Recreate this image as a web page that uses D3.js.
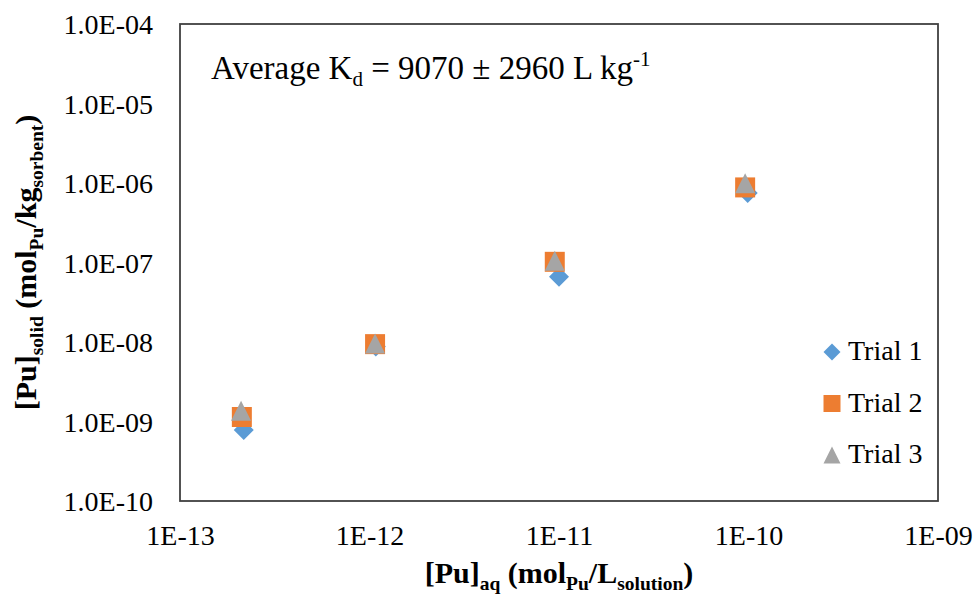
<!DOCTYPE html>
<html>
<head>
<meta charset="utf-8">
<script src="https://cdn.jsdelivr.net/npm/d3@7"></script>
<style>
  body { margin: 0; background: #fff; }
  svg, svg text { font-family: "Liberation Serif", Tinos, "Times New Roman", Times, "DejaVu Serif", serif; }
</style>
</head>
<body>
<div id="container"></div>
<script>
// values
let seriesNames = ["Trial 1", "Trial 2", "Trial 3"];
let seriesColors = ["#5B9BD5", "#ED7D31", "#A5A5A5"];
let seriesShapes = ["diamond", "square", "triangle"];

let trial1X = [2.17e-13, 1.08e-12, 1.0e-11, 9.9e-11];
let trial1Y = [7.8e-10, 8.8e-9, 6.6e-8, 7.5e-7];
let trial2X = [2.12e-13, 1.07e-12, 9.5e-12, 9.6e-11];
let trial2Y = [1.14e-9, 9.4e-9, 1.02e-7, 8.8e-7];
let trial3X = [2.1e-13, 1.07e-12, 9.5e-12, 9.6e-11];
let trial3Y = [1.37e-9, 9.6e-9, 1.05e-7, 9.9e-7];

let xTicks = [1e-13, 1e-12, 1e-11, 1e-10, 1e-9];
let xTickLabels = ["1E-13", "1E-12", "1E-11", "1E-10", "1E-09"];
let yTicks = [1e-10, 1e-9, 1e-8, 1e-7, 1e-6, 1e-5, 1e-4];
let yTickLabels = ["1.0E-10", "1.0E-09", "1.0E-08", "1.0E-07", "1.0E-06", "1.0E-05", "1.0E-04"];

let width = 976, height = 596;
let plot = { left: 180, right: 938, top: 24, bottom: 501 };
let serif = "'Liberation Serif', Tinos, 'Times New Roman', Times, 'DejaVu Serif', serif";

let svg = d3.select("#container").append("svg")
  .attr("width", width)
  .attr("height", height)
  .attr("font-family", serif);

let x = d3.scaleLog().domain([1e-13, 1e-9]).range([plot.left, plot.right]);
let y = d3.scaleLog().domain([1e-10, 1e-4]).range([plot.bottom, plot.top]);

// marker shapes, s = full size
let markerPath = (shape, s) => {
  let h = s / 2;
  if (shape == "diamond") return `M0,${-h}L${h},0L0,${h}L${-h},0Z`;
  if (shape == "square") return `M${-h},${-h}H${h}V${h}H${-h}Z`;
  return `M0,${-h}L${h},${h}L${-h},${h}Z`;
};

// plot border
svg.append("rect")
  .attr("x", plot.left)
  .attr("y", plot.top)
  .attr("width", plot.right - plot.left)
  .attr("height", plot.bottom - plot.top)
  .attr("fill", "none")
  .attr("stroke", "#404040")
  .attr("stroke-width", 1.8);

// axes (labels only, no tick marks)
let xAxis = d3.axisBottom(x).tickValues(xTicks).tickSize(0).tickPadding(0)
  .tickFormat((d, i) => xTickLabels[i]);
let gx = svg.append("g").attr("transform", `translate(0,${plot.bottom})`).call(xAxis)
  .attr("font-family", serif);
gx.select(".domain").remove();
gx.selectAll("text")
  .attr("y", 44).attr("dy", 0)
  .attr("font-size", 28).attr("fill", "#000");

let yAxis = d3.axisLeft(y).tickValues(yTicks).tickSize(0).tickPadding(0)
  .tickFormat((d, i) => yTickLabels[i]);
let gy = svg.append("g").attr("transform", `translate(${plot.left},0)`).call(yAxis)
  .attr("font-family", serif);
gy.select(".domain").remove();
gy.selectAll("text")
  .attr("x", -27).attr("dy", "0.34em")
  .attr("font-size", 28).attr("fill", "#000");

// points
let allX = [trial1X, trial2X, trial3X];
let allY = [trial1Y, trial2Y, trial3Y];
seriesNames.forEach((name, k) => {
  let pts = allX[k].map((v, i) => [v, allY[k][i]]);
  svg.append("g").selectAll("path")
    .data(pts)
    .enter()
    .append("path")
    .attr("d", markerPath(seriesShapes[k], 20))
    .attr("transform", (d) => `translate(${x(d[0])},${y(d[1])})`)
    .attr("fill", seriesColors[k]);
});

// legend
let legend = svg.append("g");
seriesNames.forEach((name, k) => {
  let ly = 352 + k * 51.5;
  legend.append("path")
    .attr("d", markerPath(seriesShapes[k], 17))
    .attr("transform", `translate(832,${ly})`)
    .attr("fill", seriesColors[k]);
  legend.append("text")
    .attr("x", 848)
    .attr("y", ly + 8)
    .attr("font-size", 28)
    .text(name);
});

// annotation
let note = svg.append("text").attr("x", 211).attr("y", 79).attr("font-size", 33);
note.append("tspan").text("Average K");
note.append("tspan").attr("font-size", 21).attr("dy", 7).text("d");
note.append("tspan").attr("dy", -7).text(" = 9070 ± 2960 L kg");
note.append("tspan").attr("font-size", 21).attr("dy", -13).text("-1");

// axis titles with sub-scripts
let addTitle = (g, parts) => {
  let shift = 0;
  parts.forEach((p) => {
    let t = g.append("tspan").text(p[0]);
    if (p[1]) {
      t.attr("font-size", 19.5).attr("dy", 7 - shift);
      shift = 7;
    } else {
      t.attr("dy", -shift);
      shift = 0;
    }
  });
};

let xTitle = svg.append("text")
  .attr("x", (plot.left + plot.right) / 2)
  .attr("y", 583)
  .attr("text-anchor", "middle")
  .attr("font-size", 30)
  .attr("font-weight", "bold");
addTitle(xTitle, [["[Pu]"], ["aq", 1], [" (mol"], ["Pu", 1], ["/L"], ["solution", 1], [")"]]);

let yTitle = svg.append("text")
  .attr("transform", `translate(36,${(plot.top + plot.bottom) / 2}) rotate(-90)`)
  .attr("text-anchor", "middle")
  .attr("font-size", 30)
  .attr("font-weight", "bold");
addTitle(yTitle, [["[Pu]"], ["solid", 1], [" (mol"], ["Pu", 1], ["/kg"], ["sorbent", 1], [")"]]);
</script>
</body>
</html>
